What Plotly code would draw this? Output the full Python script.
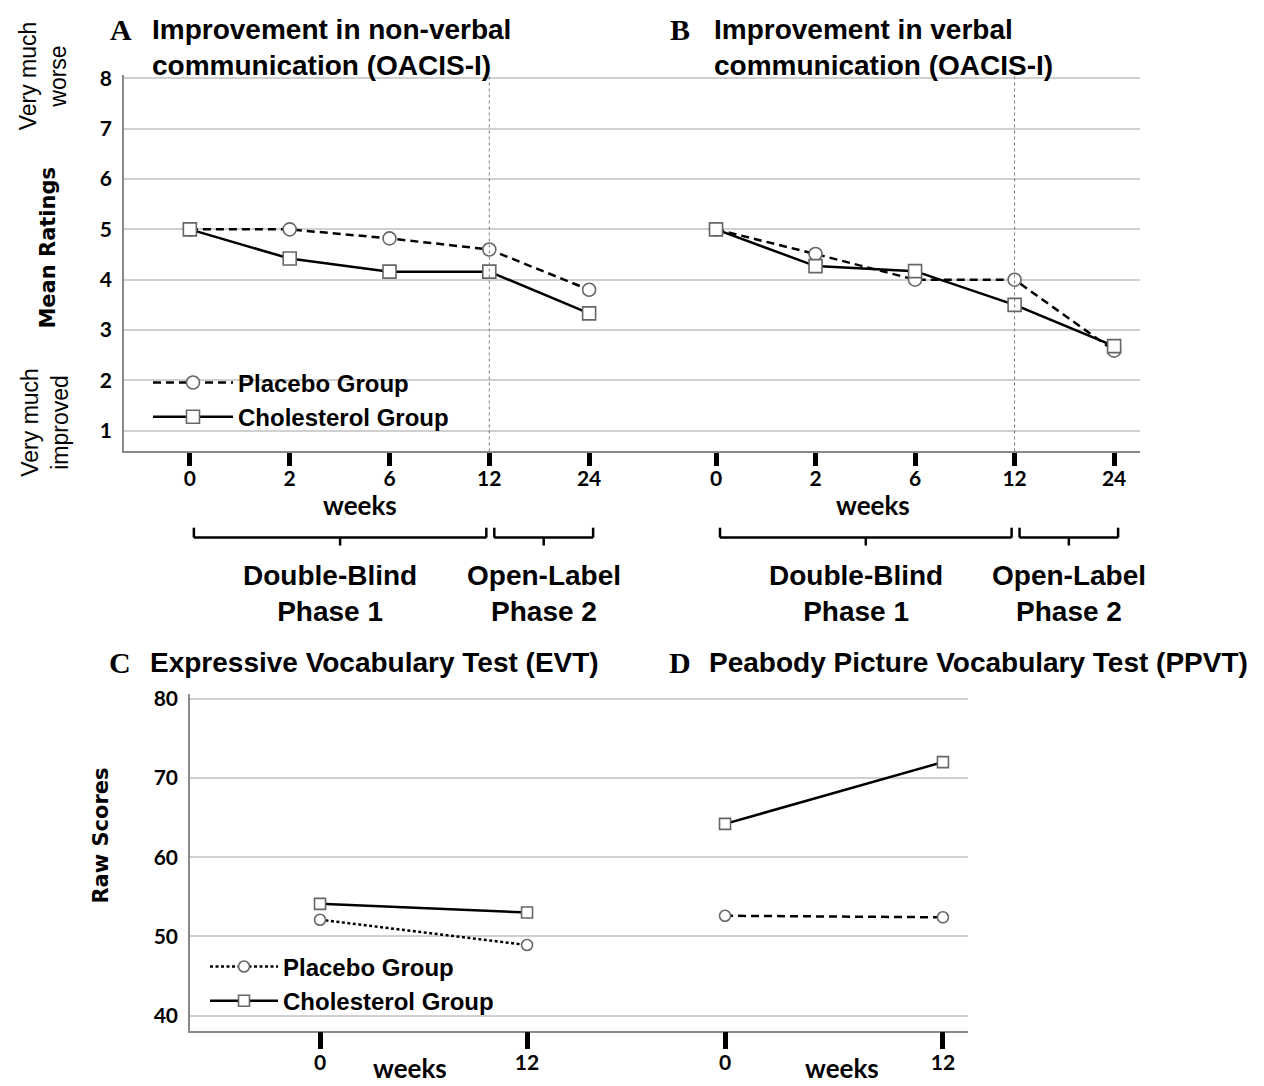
import plotly.graph_objects as go

W, H = 1264, 1086

# ---------------- data ----------------
weeks_ab = ["0", "2", "6", "12", "24"]
a_placebo = [5.0, 5.0, 4.82, 4.6, 3.8]
a_chol = [5.0, 4.42, 4.16, 4.16, 3.33]
b_placebo = [5.0, 4.51, 4.0, 4.0, 2.59]
b_chol = [5.0, 4.27, 4.17, 3.5, 2.68]

weeks_cd = ["0", "12"]
c_placebo = [52.1, 48.9]
c_chol = [54.1, 53.0]
d_placebo = [52.6, 52.4]
d_chol = [64.2, 72.0]

rating_ticks = [1, 2, 3, 4, 5, 6, 7, 8]
score_ticks = [40, 50, 60, 70, 80]

phases = [("Double-Blind<br>Phase 1", "0", "12"), ("Open-Label<br>Phase 2", "12", "24")]


def px(x):
    return x / W


def py(y):
    return 1 - y / H


GRID = "#d0d0d0"
AXL = "#8a8a8a"
TICKFONT = dict(family="Lato, Open Sans, sans-serif", size=21, color="black", weight="bold")
SANS = "Liberation Sans, Arial, sans-serif"

fig = go.Figure()

idx_ab = list(range(len(weeks_ab)))
idx_cd = list(range(len(weeks_cd)))


def add_pair(xa, ya, x, placebo, chol, pdash, msize, legend, show):
    fig.add_trace(go.Scatter(
        x=x, y=placebo, xaxis=xa, yaxis=ya, mode="lines+markers",
        name="Placebo Group", legend=legend, showlegend=show,
        line=dict(color="black", width=2.5, dash=pdash),
        marker=dict(symbol="circle", size=msize, color="white",
                    line=dict(color="#666666", width=1.6)),
    ))
    fig.add_trace(go.Scatter(
        x=x, y=chol, xaxis=xa, yaxis=ya, mode="lines+markers",
        name="Cholesterol Group", legend=legend, showlegend=show,
        line=dict(color="black", width=2.5),
        marker=dict(symbol="square", size=msize, color="white",
                    line=dict(color="#666666", width=1.6)),
    ))


add_pair("x", "y", idx_ab, a_placebo, a_chol, "8px,5px", 13, "legend", True)
add_pair("x2", "y2", idx_ab, b_placebo, b_chol, "8px,5px", 13, "legend", False)
add_pair("x3", "y3", idx_cd, c_placebo, c_chol, "3px,2.5px", 11, "legend2", True)
add_pair("x4", "y4", idx_cd, d_placebo, d_chol, "8px,5px", 11, "legend2", False)

xcommon = dict(
    showgrid=False, zeroline=False, showline=True, linecolor=AXL, linewidth=1.5,
    ticks="outside", tickcolor="black", tickwidth=5, tickfont=TICKFONT,
    fixedrange=True,
)
ycommon = dict(
    showgrid=True, gridcolor=GRID, gridwidth=1.5, zeroline=False,
    tickfont=TICKFONT, fixedrange=True, ticks="",
)

ab_dom = [py(445), py(65)]
cd_dom = [py(1030), py(690)]

legend_font = dict(family=SANS, size=24, color="black", weight="bold")

fig.update_layout(
    width=W, height=H, autosize=False,
    margin=dict(l=0, r=0, t=0, b=0),
    paper_bgcolor="white", plot_bgcolor="white",
    xaxis=dict(domain=[px(124), px(655)], range=[-0.66, 4.66], anchor="y",
               tickvals=idx_ab, ticktext=weeks_ab, ticklen=13, ticklabelstandoff=-5, **xcommon),
    xaxis2=dict(domain=[px(655), px(1140)], range=[-0.613, 4.26], anchor="y2",
                tickvals=idx_ab, ticktext=weeks_ab, ticklen=13, ticklabelstandoff=-5, **xcommon),
    yaxis=dict(domain=ab_dom, range=[0.587, 8.06], anchor="x", tickvals=rating_ticks,
               showline=True, linecolor=AXL, linewidth=1.5, ticklabelstandoff=6, **ycommon),
    yaxis2=dict(domain=ab_dom, range=[0.587, 8.06], anchor="x2", tickvals=rating_ticks,
                showticklabels=False, showline=False, **ycommon),
    xaxis3=dict(domain=[px(190), px(620)], range=[-0.628, 1.449], anchor="y3",
                tickvals=idx_cd, ticktext=weeks_cd, ticklen=17, ticklabelstandoff=-5, **xcommon),
    xaxis4=dict(domain=[px(620), px(968)], range=[-0.482, 1.115], anchor="y4",
                tickvals=idx_cd, ticktext=weeks_cd, ticklen=17, ticklabelstandoff=-5, **xcommon),
    yaxis3=dict(domain=cd_dom, range=[38.1, 80.6], anchor="x3", tickvals=score_ticks,
                showline=True, linecolor=AXL, linewidth=1.5, ticklabelstandoff=6, **ycommon),
    yaxis4=dict(domain=cd_dom, range=[38.1, 80.6], anchor="x4", tickvals=score_ticks,
                showticklabels=False, showline=False, **ycommon),
    legend=dict(x=px(148), y=py(353), xanchor="left", yanchor="top",
                bgcolor="rgba(0,0,0,0)", traceorder="normal",
                font=legend_font, itemwidth=80, tracegroupgap=0),
    legend2=dict(x=px(205), y=py(943), xanchor="left", yanchor="top",
                 bgcolor="rgba(0,0,0,0)", traceorder="normal",
                 font=legend_font, itemwidth=68, tracegroupgap=0),
    showlegend=True,
)

# vertical dotted lines at week 12 (end of double-blind phase)
for xa in ["x", "x2"]:
    fig.add_shape(type="line", xref=xa, yref=xa.replace("x", "y") + " domain",
                  x0=weeks_ab.index("12"), x1=weeks_ab.index("12"), y0=0, y1=1,
                  line=dict(color="#777777", width=1, dash="dot"))

# phase brackets and labels
for xa in ["x", "x2"]:
    for label, start, end in phases:
        i0 = weeks_ab.index(start) + (0.04 if start == "0" else 0.05)
        i1 = weeks_ab.index(end) + (-0.03 if end == "12" else 0.04)
        mid = (i0 + i1) / 2
        ln = dict(color="black", width=2.5)
        fig.add_shape(type="line", xref=xa, yref="paper", x0=i0, x1=i1, y0=py(532), y1=py(532), line=ln)
        fig.add_shape(type="line", xref=xa, yref="paper", x0=i0, x1=i0, y0=py(532), y1=py(522), line=ln)
        fig.add_shape(type="line", xref=xa, yref="paper", x0=i1, x1=i1, y0=py(532), y1=py(522), line=ln)
        fig.add_shape(type="line", xref=xa, yref="paper", x0=mid, x1=mid, y0=py(532), y1=py(540), line=ln)
        fig.add_annotation(xref=xa, yref="paper", x=mid - (0.1 if start == "0" else 0.0), y=py(588),
                           text="<b>" + label + "</b>", showarrow=False,
                           xanchor="center", yanchor="middle",
                           font=dict(family=SANS, size=28, color="black"), align="center")

# "weeks" labels
weeks_font = dict(family="Lato, sans-serif", size=26, color="black", weight="bold")
for x, y in [(360, 499), (873, 499), (410, 1068), (842, 1068)]:
    fig.add_annotation(xref="paper", yref="paper", x=px(x), y=py(y), text="weeks",
                       showarrow=False, font=weeks_font, xanchor="center", yanchor="middle")

# panel letters and titles
letter_font = dict(family="Liberation Serif, Times New Roman, serif", size=30, color="black", weight="bold")
title_font = dict(family=SANS, size=28, color="black", weight="bold")
for letter, lx, tx, ly, ty, title in [
    ("A", 121, 150, 19, 37, "Improvement in non-verbal<br>communication (OACIS-I)"),
    ("B", 680, 712, 19, 37, "Improvement in verbal<br>communication (OACIS-I)"),
    ("C", 120, 148, 658, 658, "Expressive Vocabulary Test (EVT)"),
    ("D", 680, 707, 658, 658, "Peabody Picture Vocabulary Test (PPVT)"),
]:
    fig.add_annotation(xref="paper", yref="paper", x=px(lx), y=py(ly), text=letter,
                       showarrow=False, font=letter_font, xanchor="center", yanchor="middle")
    fig.add_annotation(xref="paper", yref="paper", x=px(tx), y=py(ty), text=title,
                       showarrow=False, font=title_font, xanchor="left", yanchor="middle",
                       align="left")

# y-axis descriptive labels
side_font = dict(family=SANS, size=23, color="black")
axis_title_font = dict(family="DejaVu Sans, sans-serif", size=21, color="black", weight="bold")
for text, x, y, font in [
    ("Very much<br>worse", 43, 66, side_font),
    ("Very much<br>improved", 45, 416, side_font),
    ("Mean Ratings", 48, 239, axis_title_font),
    ("Raw Scores", 101, 833, axis_title_font),
]:
    fig.add_annotation(xref="paper", yref="paper", x=px(x), y=py(y), text=text,
                       textangle=-90, showarrow=False, font=font, align="center",
                       xanchor="center", yanchor="middle")

fig.write_html("out.html", config={"displayModeBar": False},
               post_script="document.body.style.margin='0';document.body.style.overflow='hidden';")
